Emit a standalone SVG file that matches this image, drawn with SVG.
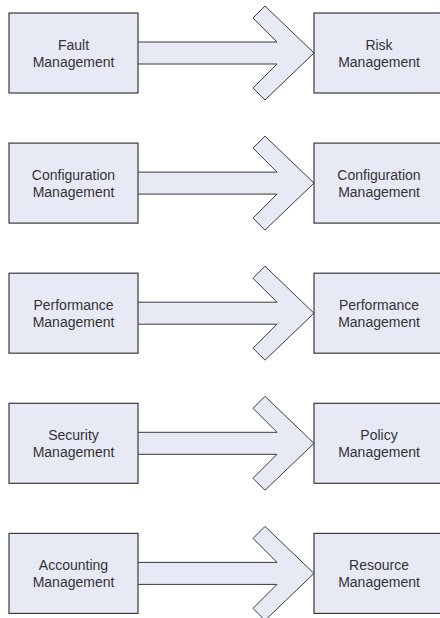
<svg xmlns="http://www.w3.org/2000/svg" width="440" height="618" viewBox="0 0 440 618">
<style>
.box{fill:#E7EAF5;stroke:#3a3a3a;stroke-width:1.2}
.arr{fill:#E7EAF5;stroke:#3a3a3a;stroke-width:1;stroke-linejoin:miter}
.lbl{font-family:"Liberation Sans",Arial,sans-serif;font-size:14px;fill:#333;text-anchor:middle}
</style>
<rect width="440" height="618" fill="#fff"/>
<g id="connectors">
<path class="arr" d="M138,42 L277,42 L253,18 L265,6 L314,53 L265,100 L253,88 L277,64 L138,64"/>
<path class="arr" d="M138,172.1 L277,172.1 L253,148.1 L265,136.1 L314,183.1 L265,230.1 L253,218.1 L277,194.1 L138,194.1"/>
<path class="arr" d="M138,302.2 L277,302.2 L253,278.2 L265,266.2 L314,313.2 L265,360.2 L253,348.2 L277,324.2 L138,324.2"/>
<path class="arr" d="M138,432.3 L277,432.3 L253,408.3 L265,396.3 L314,443.3 L265,490.3 L253,478.3 L277,454.3 L138,454.3"/>
<path class="arr" d="M138,562.4 L277,562.4 L253,538.4 L265,526.4 L314,573.4 L265,620.4 L253,608.4 L277,584.4 L138,584.4"/>
</g>
<g id="fault">
<rect class="box" x="9" y="13" width="129" height="80"/>
<text class="lbl" x="73.5" y="50">Fault</text>
<text class="lbl" x="73.5" y="67">Management</text>
</g>
<g id="risk">
<rect class="box" x="314" y="13" width="130" height="80"/>
<text class="lbl" x="379" y="50">Risk</text>
<text class="lbl" x="379" y="67">Management</text>
</g>
<g id="config-left">
<rect class="box" x="9" y="143.1" width="129" height="80"/>
<text class="lbl" x="73.5" y="180.1">Configuration</text>
<text class="lbl" x="73.5" y="197.1">Management</text>
</g>
<g id="config-right">
<rect class="box" x="314" y="143.1" width="130" height="80"/>
<text class="lbl" x="379" y="180.1">Configuration</text>
<text class="lbl" x="379" y="197.1">Management</text>
</g>
<g id="perf-left">
<rect class="box" x="9" y="273.2" width="129" height="80"/>
<text class="lbl" x="73.5" y="310.2">Performance</text>
<text class="lbl" x="73.5" y="327.2">Management</text>
</g>
<g id="perf-right">
<rect class="box" x="314" y="273.2" width="130" height="80"/>
<text class="lbl" x="379" y="310.2">Performance</text>
<text class="lbl" x="379" y="327.2">Management</text>
</g>
<g id="security">
<rect class="box" x="9" y="403.3" width="129" height="80"/>
<text class="lbl" x="73.5" y="440.3">Security</text>
<text class="lbl" x="73.5" y="457.3">Management</text>
</g>
<g id="policy">
<rect class="box" x="314" y="403.3" width="130" height="80"/>
<text class="lbl" x="379" y="440.3">Policy</text>
<text class="lbl" x="379" y="457.3">Management</text>
</g>
<g id="accounting">
<rect class="box" x="9" y="533.4" width="129" height="80"/>
<text class="lbl" x="73.5" y="570.4">Accounting</text>
<text class="lbl" x="73.5" y="587.4">Management</text>
</g>
<g id="resource">
<rect class="box" x="314" y="533.4" width="130" height="80"/>
<text class="lbl" x="379" y="570.4">Resource</text>
<text class="lbl" x="379" y="587.4">Management</text>
</g>
</svg>
